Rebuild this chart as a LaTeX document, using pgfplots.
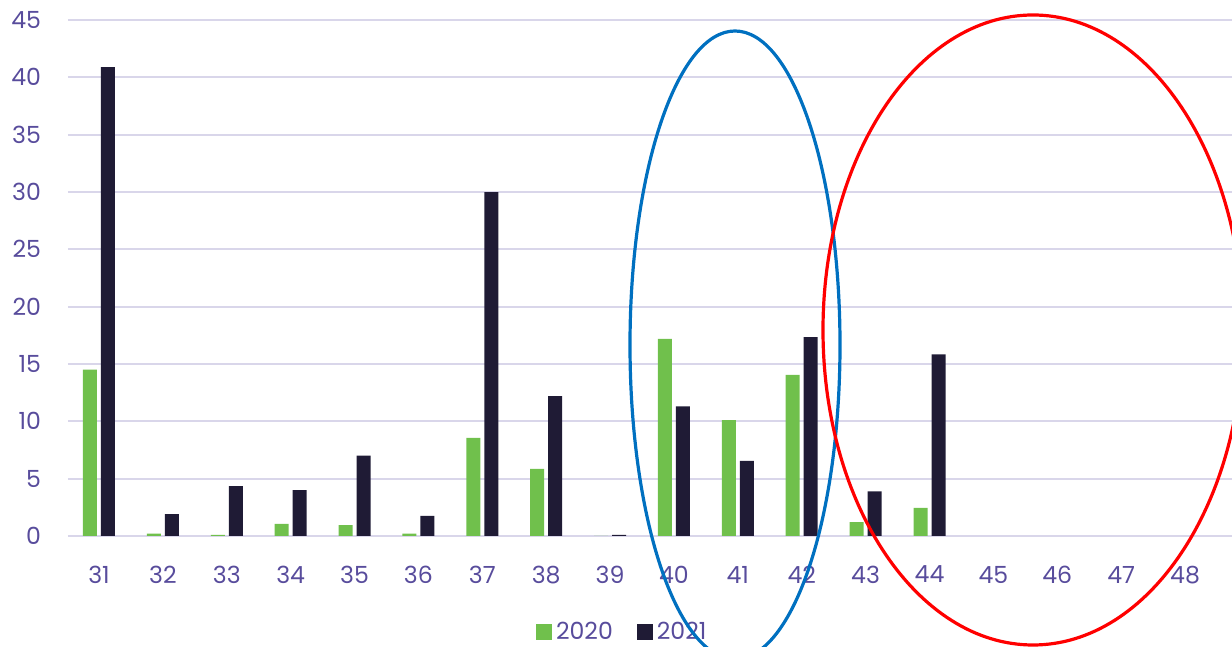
\documentclass[border=0pt]{standalone}
\usepackage{pgfplots}
\pgfplotsset{compat=1.18}
\usepackage{fontspec}
\setmainfont{Poppins}

\definecolor{bargreen}{RGB}{112,192,76}
\definecolor{bardark}{RGB}{31,27,53}
\definecolor{gridlav}{RGB}{217,214,234}
\definecolor{txtpurple}{RGB}{88,76,156}
\definecolor{ringblue}{RGB}{0,112,192}

\begin{document}
\begin{tikzpicture}
\path[use as bounding box] (0,0) rectangle (616pt,323.5pt);
\begin{axis}[
    at={(34pt,55.5pt)}, anchor=south west,
    scale only axis,
    width=582pt, height=258pt,
    ybar=2pt, bar width=7pt,
    xmin=30.515, xmax=48.735,
    ymin=0, ymax=45,
    xtick={31,...,48},
    ytick={0,5,...,45},
    axis line style={draw=none},
    major tick length=0pt,
    ymajorgrids, grid style={gridlav, line width=0.9pt},
    /pgf/number format/assume math mode=true,
    ticklabel style={font=\fontsize{11.8}{14}\selectfont, text=txtpurple},
    xticklabel style={yshift=-11.5pt},
    yticklabel style={xshift=-10pt},
    legend style={at={(0.477,-0.186)}, anchor=center, draw=none,
        font=\fontsize{11.8}{14}\selectfont, text=txtpurple,
        legend columns=2,
        /tikz/every even column/.append style={column sep=10pt}},
    legend image code/.code={\fill[#1] (0pt,-4pt) rectangle (8pt,4pt);},
]
\addplot[fill=bargreen, draw=none] coordinates {
(31,14.5) (32,0.2) (33,0.1) (34,1.05) (35,0.95) (36,0.2) (37,8.55) (38,5.85)
(39,0) (40,17.2) (41,10.1) (42,14.05) (43,1.2) (44,2.45)};
\addplot[fill=bardark, draw=none] coordinates {
(31,40.9) (32,1.9) (33,4.35) (34,4.0) (35,7.0) (36,1.75) (37,30.0) (38,12.2)
(39,0.1) (40,11.3) (41,6.55) (42,17.35) (43,3.9) (44,15.85)};
\legend{2020,2021}
\end{axis}
% annotation rings
\draw[ringblue, line width=1.6pt] (367.5pt,151pt) ellipse [x radius=52.5pt, y radius=157pt];
\draw[red, line width=1.6pt] (516.5pt,158.5pt) ellipse [x radius=105pt, y radius=157.5pt];
\end{tikzpicture}
\end{document}
